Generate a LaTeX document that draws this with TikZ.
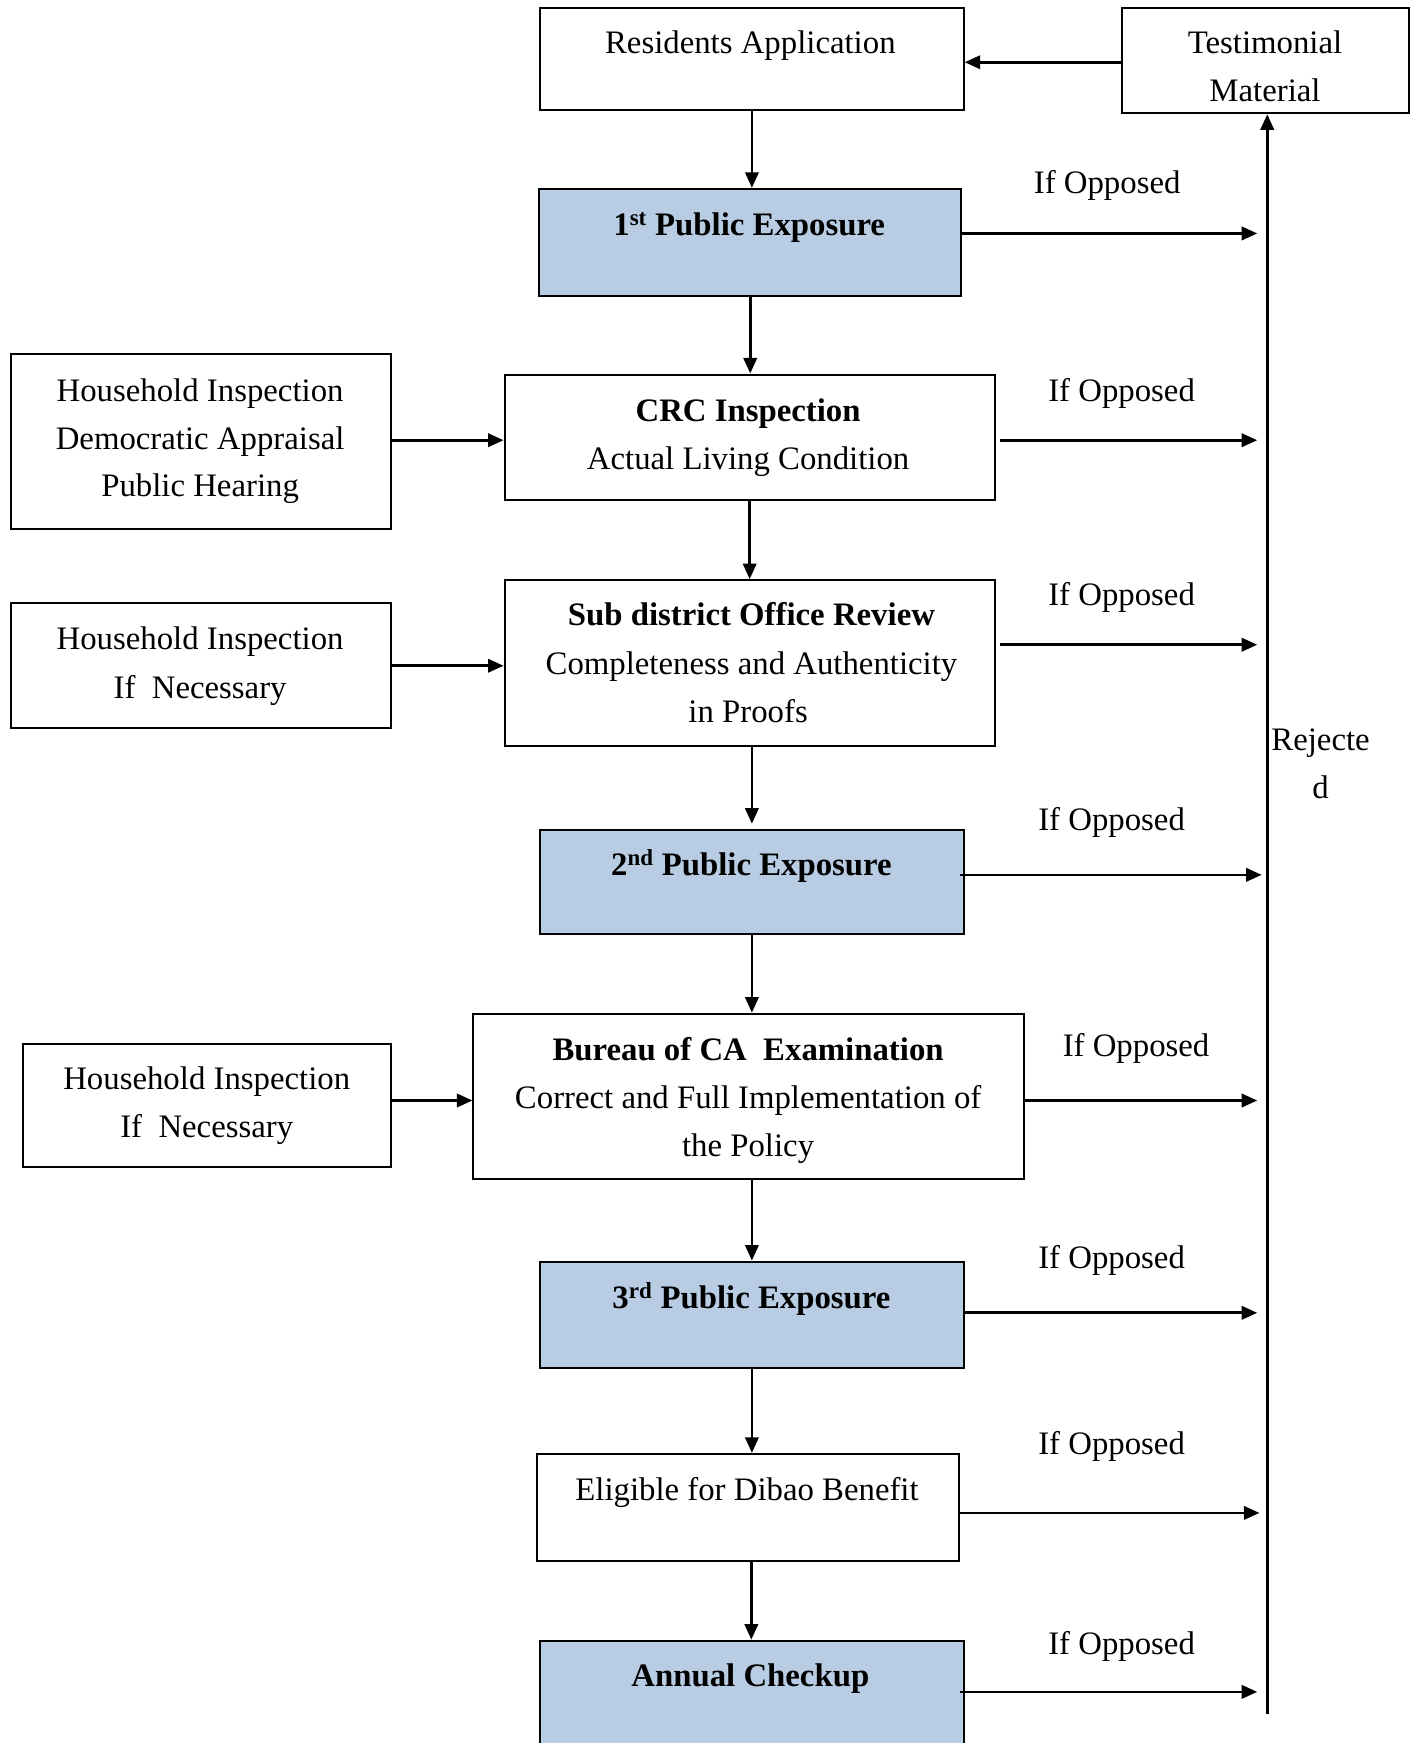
\documentclass[tikz,border=0pt]{standalone}
\usepackage{fontspec}
\setmainfont{Liberation Serif}
\usetikzlibrary{arrows.meta}
\definecolor{pblue}{HTML}{B8CCE4}
\begin{document}
\begin{tikzpicture}[x=1pt,y=-1pt,
 box/.style={draw, line width=1.8pt, rectangle, inner sep=0pt, anchor=north west},
 blu/.style={box, fill=pblue},
 txt/.style={font=\fontsize{29.5}{43}\selectfont, inner sep=0pt, anchor=base},
 arr/.style={line width=2.4pt, -{Triangle[length=14pt,width=12pt]}},
]
\useasboundingbox (0,0) rectangle (1268,1568);
% boxes
\node[box, minimum width=381pt, minimum height=92pt] (res) at (485,6) {};
\node[box, minimum width=259pt, minimum height=95pt] (tes) at (1008,6) {};
\node[blu, minimum width=380pt, minimum height=96pt] (pe1) at (484,169) {};
\node[box, minimum width=441pt, minimum height=113pt] (crc) at (453,336) {};
\node[box, minimum width=342pt, minimum height=157pt] (hh1) at (9,318) {};
\node[box, minimum width=441pt, minimum height=149pt] (sub) at (453,521) {};
\node[box, minimum width=342pt, minimum height=112pt] (hh2) at (9,542) {};
\node[blu, minimum width=381pt, minimum height=93pt] (pe2) at (485,746) {};
\node[box, minimum width=495pt, minimum height=149pt] (bur) at (425,911) {};
\node[box, minimum width=331pt, minimum height=111pt] (hh3) at (20,938) {};
\node[blu, minimum width=381pt, minimum height=96pt] (pe3) at (485,1134) {};
\node[box, minimum width=380pt, minimum height=96pt] (eli) at (482,1307) {};
\node[blu, minimum width=381pt, minimum height=110pt] (ann) at (485,1475) {};
% texts
\node[txt] (t1) at (675,48) {Residents Application};
\node[txt] (t2) at (1138,48) {Testimonial};
\node[txt] (t3) at (1138,91) {Material};
\node[txt] (t4) at (674,212) {\textbf{1\textsuperscript{st} Public Exposure}};
\node[txt] (t5) at (673,379) {\textbf{CRC Inspection}};
\node[txt] (t6) at (673,422) {Actual Living Condition};
\node[txt] (t7) at (180,361) {Household Inspection};
\node[txt] (t8) at (180,404) {Democratic Appraisal};
\node[txt] (t9) at (180,447) {Public Hearing};
\node[txt] (t10) at (676,563) {\textbf{Sub district Office Review}};
\node[txt] (t11) at (676,607) {Completeness and Authenticity};
\node[txt] (t12) at (673,650) {in Proofs};
\node[txt] (t13) at (180,584) {Household Inspection};
\node[txt] (t14) at (180,628) {If\ \ Necessary};
\node[txt] (t15) at (676,788) {\textbf{2\textsuperscript{nd} Public Exposure}};
\node[txt] (t16) at (673,954) {\textbf{Bureau of CA\ \ Examination}};
\node[txt] (t17) at (673,997) {Correct and Full Implementation of};
\node[txt] (t18) at (673,1040) {the Policy};
\node[txt] (t19) at (186,980) {Household Inspection};
\node[txt] (t20) at (186,1023) {If\ \ Necessary};
\node[txt] (t21) at (676,1177) {\textbf{3\textsuperscript{rd} Public Exposure}};
\node[txt] (t22) at (672,1350) {Eligible for Dibao Benefit};
\node[txt] (t23) at (675,1517) {\textbf{Annual Checkup}};
\node[txt] (t24) at (1188,675) {Rejecte};
\node[txt] (t25) at (1188,718) {d};
% If Opposed labels
\node[txt] (o1) at (996,174) {If Opposed};
\node[txt] (o2) at (1009,361) {If Opposed};
\node[txt] (o3) at (1009,545) {If Opposed};
\node[txt] (o4) at (1000,747) {If Opposed};
\node[txt] (o5) at (1022,950) {If Opposed};
\node[txt] (o6) at (1000,1141) {If Opposed};
\node[txt] (o7) at (1000,1308) {If Opposed};
\node[txt] (o8) at (1009,1488) {If Opposed};
% rejection line
\coordinate (vbot) at (1140,1542);
\draw[arr] (vbot) -- (vbot |- tes.south);
% right arrows
\coordinate (r1) at (1131,210);
\coordinate (r2) at (1131,396);
\coordinate (r3) at (1131,580);
\coordinate (r4) at (1135,787);
\coordinate (r5) at (1131,990);
\coordinate (r6) at (1131,1181);
\coordinate (r7) at (1133,1361);
\coordinate (r8) at (1131,1522);
\draw[arr] (pe1.east |- r1) -- (r1);
\draw[arr] ([xshift=4pt]crc.east |- r2) -- (r2);
\draw[arr] ([xshift=4pt]sub.east |- r3) -- (r3);
\draw[arr] ([xshift=-4pt]pe2.east |- r4) -- (r4);
\draw[arr] (bur.east |- r5) -- (r5);
\draw[arr] (pe3.east |- r6) -- (r6);
\draw[arr] (eli.east |- r7) -- (r7);
\draw[arr] ([xshift=-4pt]ann.east |- r8) -- (r8);
% vertical flow
\draw[arr] (res.south) -- (res.south |- pe1.north);
\draw[arr] (pe1.south) -- (pe1.south |- crc.north);
\draw[arr] (crc.south) -- (crc.south |- sub.north);
\draw[arr] ([xshift=2pt]sub.south) -- ([xshift=2pt,yshift=5pt]sub.south |- pe2.north);
\draw[arr] (pe2.south) -- (pe2.south |- bur.north);
\draw[arr] ([xshift=3pt]bur.south) -- ([xshift=3pt]bur.south |- pe3.north);
\draw[arr] (pe3.south) -- (pe3.south |- eli.north);
\draw[arr] ([xshift=3pt]eli.south) -- ([xshift=3pt]eli.south |- ann.north);
% left side arrows
\draw[arr] (tes.west |- 0,56) -- (res.east |- 0,56);
\draw[arr] (hh1.east |- 0,396) -- (crc.west |- 0,396);
\draw[arr] (hh2.east) -- (hh2.east -| sub.west);
\draw[arr] (hh3.east |- 0,990) -- (bur.west |- 0,990);
\end{tikzpicture}
\end{document}
